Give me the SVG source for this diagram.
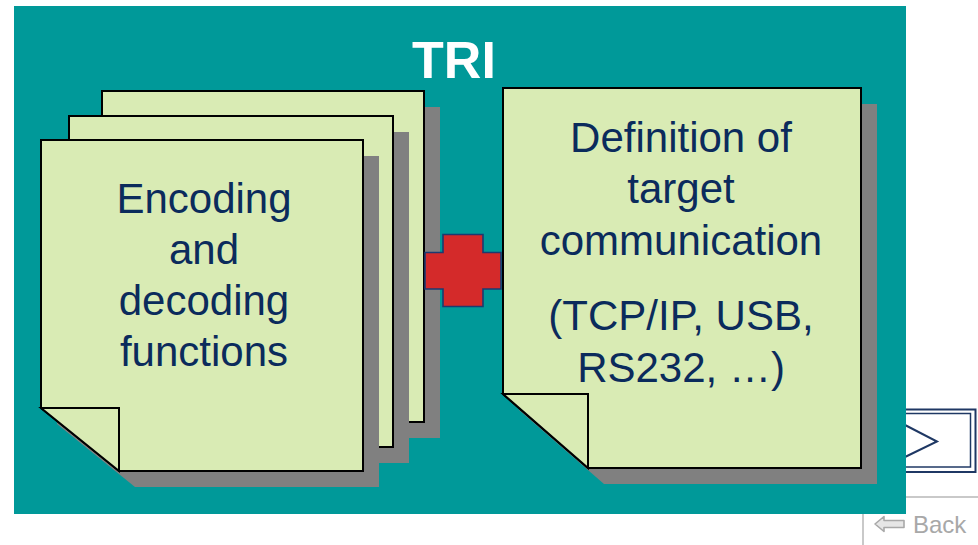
<svg xmlns="http://www.w3.org/2000/svg" width="978" height="545" viewBox="0 0 978 545">
  <style>
    .sheet { fill: #d9ebb4; stroke: #000000; stroke-width: 2; stroke-linejoin: miter; }
    .shadow { fill: #808080; }
    .label { font-family: "Liberation Sans", Arial, sans-serif; font-size: 42px; fill: #0b2b5c; text-anchor: middle; }
    .nav { fill: none; stroke: #1f3864; }
  </style>

  <rect x="0" y="0" width="978" height="545" fill="#ffffff"/>

  <!-- forward navigation button (partly under the panel) -->
  <g id="next-button">
    <rect x="860" y="409.5" width="115.5" height="62.5" fill="#ffffff" class="nav" stroke-width="2"/>
    <rect x="860" y="413.5" width="110.5" height="53.5" class="nav" stroke-width="1.5"/>
    <polyline points="905,425 937,441.5 905,457" class="nav" stroke-width="2"/>
  </g>

  <!-- back navigation button -->
  <g id="back-button">
    <polyline points="863,545 863,497 978,497" fill="none" stroke="#b8b8b8" stroke-width="1.5"/>
    <path d="M875,524 L884,516.5 L884,520.5 L904,520.5 L904,527.5 L884,527.5 L884,531.5 Z" fill="#e6e6e6" stroke="#a8a8a8" stroke-width="1.6" stroke-linejoin="round"/>
    <text x="913" y="533" font-family="Liberation Sans, Arial, sans-serif" font-size="24" fill="#a8a8a8">Back</text>
  </g>

  <!-- teal panel -->
  <rect id="panel" x="14" y="6" width="892" height="508" fill="#009999"/>
  <text x="454" y="78" font-family="Liberation Sans, Arial, sans-serif" font-size="52" font-weight="bold" fill="#ffffff" text-anchor="middle">TRI</text>

  <!-- stacked sheets: encoding / decoding (each sheet has a folded corner) -->
  <g id="encoding-stack">
    <polygon class="shadow" points="118,107 440,107 440,438 196,438 118,375"/>
    <polygon class="sheet" points="102,91 424,91 424,422 180,422 102,359"/>
    <polygon class="shadow" points="85,132 409,132 409,463 163,463 85,400"/>
    <polygon class="sheet" points="69,116 393,116 393,447 147,447 69,384"/>
    <polygon class="shadow" points="57,156 379,156 379,487 135,487 57,424"/>
    <polygon class="sheet" points="41,140 363,140 363,471 119,471 41,408"/>
    <polygon class="sheet" points="41,408 119,408 119,471"/>
    <text class="label" x="204" y="213">Encoding</text>
    <text class="label" x="204" y="264">and</text>
    <text class="label" x="204" y="315">decoding</text>
    <text class="label" x="204" y="366">functions</text>
  </g>

  <!-- plus sign -->
  <g id="plus">
    <polygon points="443,234.5 483,234.5 483,252.5 501,252.5 501,289 483,289 483,306.5 443,306.5 443,289 425,289 425,252.5 443,252.5" fill="#d42a2a" stroke="#1c3a70" stroke-width="1.6"/>
  </g>

  <!-- target communication sheet -->
  <g id="target-communication">
    <polygon class="shadow" points="519,104 877,104 877,484 604,484 519,410"/>
    <polygon class="sheet" points="503,88 861,88 861,468 588,468 503,394"/>
    <polygon class="sheet" points="503,394 588,394 588,468"/>
    <text class="label" x="681" y="152">Definition of</text>
    <text class="label" x="681" y="203">target</text>
    <text class="label" x="681" y="255">communication</text>
    <text class="label" x="681" y="330">(TCP/IP, USB,</text>
    <text class="label" x="681" y="382">RS232, …)</text>
  </g>
</svg>
